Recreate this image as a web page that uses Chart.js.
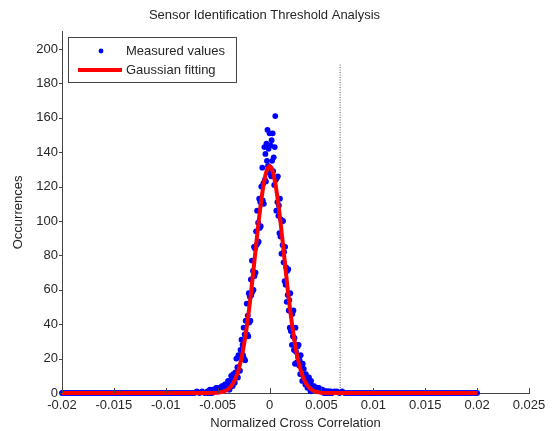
<!DOCTYPE html>
<html><head><meta charset="utf-8">
<script src="https://cdn.jsdelivr.net/npm/chart.js@4"></script>
<style>html,body{margin:0;padding:0;background:#fff}</style>
</head><body>
<canvas id="c" width="557" height="431" style="width:557px;height:431px;display:block"></canvas>
<script>
const titleText = 'Sensor Identification Threshold Analysis';
const xTitle = 'Normalized Cross Correlation';
const yTitle = 'Occurrences';
const legendLabels = ['Measured values', 'Gaussian fitting'];
const xTickValues = [-0.02, -0.015, -0.01, -0.005, 0, 0.005, 0.01, 0.015, 0.02, 0.025];
const xTickLabels = ['-0.02', '-0.015', '-0.01', '-0.005', '0', '0.005', '0.01', '0.015', '0.02', '0.025'];
const yTickValues = [0, 20, 40, 60, 80, 100, 120, 140, 160, 180, 200];

// measured histogram, central bins (-0.006 .. 0.006, width 0.00005)
const binStart = -0.006;
const binWidth = 0.00005;
const measuredCounts = [
  1,0,1,0,1,2,0,1,1,0,2,1,1,2,1,2,1,3,2,1,2,
  3,2,3,2,2,3,2,4,3,3,4,3,3,5,4,4,5,4,5,
  7,2,6,2,7,5,10,5,7,4,
  11,6,10,6,12,10,20,10,15,9,
  22,13,21,13,25,21,31,22,28,22,
  38,20,34,19,42,33,52,34,45,33,
  58,41,56,42,66,57,77,59,71,60,
  85,68,84,70,94,86,106,87,99,88,
  113,96,111,97,120,111,131,112,122,110,
  143,124,139,123,145,135,153,132,142,128,
  151,
  131,144,126,147,135,151,129,137,121,143,
  161,124,106,125,111,126,103,109,93,113,
  91,101,81,100,86,100,76,82,65,85,
  63,73,53,71,57,72,48,54,38,58,
  36,47,28,46,33,48,25,32,17,38,
  24,28,18,27,21,28,16,19,11,22,
  11,16,7,17,10,14,8,9,5,11,
  5,8,3,8,5,9,3,5,1,7,
  4,3,4,3,3,4,3,2,3,3,
  2,3,2,2,3,2,1,2,2,1,
  1,2,1,1,0,1,1,0,1,1,
  0,1,0,0,1,0,0,1,0,0
];
// measured histogram, tail bins (width 0.00025)
const tailStep = 0.00025;
const tailLeftStart = -0.02;
const tailLeftCounts = [
  0,0,0,0,0,0,0,0,0,0, 0,0,0,0,0,0,0,0,0,0,
  0,0,0,0,0,0,0,0,0,0, 0,0,0,0,0,0,0,0,0,0,
  0,0,0,0,0,0,0,0,0,0, 0,0,1,0,1,0
];
const tailRightStart = 0.00625;
const tailRightCounts = [
  1,1,0,1,0,0,0,0,0,0, 0,0,0,0,0,0,0,0,0,0,
  0,0,0,0,0,0,0,0,0,0, 0,0,0,0,0,0,0,0,0,0,
  0,0,0,0,0,0,0,0,0,0, 0,0,0,0,0,0
];

// Gaussian fitting curve
const fitX = [-0.02, -0.011, -0.006,
  -0.005, -0.0048, -0.0046, -0.0044, -0.0042, -0.004, -0.0038, -0.0036, -0.0034, -0.0032,
  -0.003, -0.0028, -0.0026, -0.0024, -0.0022, -0.002, -0.0018, -0.0016, -0.0014, -0.0012,
  -0.001, -0.0008, -0.0006, -0.0004, -0.0002, 0,
  0.0002, 0.0004, 0.0006, 0.0008, 0.001, 0.0012, 0.0014, 0.0016, 0.0018, 0.002,
  0.0022, 0.0024, 0.0026, 0.0028, 0.003, 0.0032, 0.0034, 0.0036, 0.0038, 0.004,
  0.0042, 0.0044, 0.0046, 0.0048, 0.005,
  0.006, 0.011, 0.02];
const fitY = [0, 0, 0,
  0.2, 0.4, 0.6, 0.9, 1.5, 2.2, 3.3, 4.8, 6.9, 9.7,
  13.2, 17.9, 23.5, 30.4, 38.4, 47.4, 57.6, 68.7, 80.1, 91.5,
  102.3, 112.1, 120.4, 126.7, 130.7, 132,
  130.7, 126.7, 120.4, 112.1, 102.3, 91.5, 80.1, 68.7, 57.6, 47.4,
  38.4, 30.4, 23.5, 17.9, 13.2, 9.7, 6.9, 4.8, 3.3, 2.2,
  1.5, 0.9, 0.6, 0.4, 0.2,
  0, 0, 0];

const thresholdX = 0.0068;
const thresholdTop = 191;

// ---- build point tables ----
const measuredPoints = [];
tailLeftCounts.forEach((c, i) => measuredPoints.push({x: tailLeftStart + i * tailStep, y: c}));
measuredCounts.forEach((c, i) => measuredPoints.push({x: binStart + i * binWidth, y: c}));
tailRightCounts.forEach((c, i) => measuredPoints.push({x: tailRightStart + i * tailStep, y: c}));
const fitPoints = fitX.map((x, i) => ({x: x, y: fitY[i]}));
const thresholdPoints = [{x: thresholdX, y: 0}, {x: thresholdX, y: thresholdTop}];

const FONT = '"Liberation Sans", Arial, sans-serif';
const TXT = '#262626';
Chart.defaults.font.family = FONT;
Chart.defaults.font.size = 13;
Chart.defaults.color = TXT;

const decorPlugin = {
  id: 'decor',
  afterDraw(chart) {
    const ctx = chart.ctx;
    const xs = chart.scales.x, ys = chart.scales.y;
    const ca = chart.chartArea;
    ctx.save();
    ctx.strokeStyle = '#444';
    ctx.lineWidth = 1;
    ctx.beginPath();
    xTickValues.forEach(v => {
      const px = Math.round(xs.getPixelForValue(v)) + 0.5;
      ctx.moveTo(px, ca.bottom);
      ctx.lineTo(px, ca.bottom - 5);
    });
    yTickValues.forEach(v => {
      const py = Math.round(ys.getPixelForValue(v)) + 0.5;
      ctx.moveTo(ca.left - 3, py);
      ctx.lineTo(ca.left, py);
    });
    ctx.stroke();
    // legend box
    const bx = 68.5, by = 37.5, bw = 168, bh = 45;
    ctx.fillStyle = '#fff';
    ctx.fillRect(bx, by, bw, bh);
    ctx.strokeStyle = '#444';
    ctx.strokeRect(bx, by, bw, bh);
    ctx.fillStyle = '#0000ff';
    ctx.beginPath();
    ctx.arc(101, 51, 2.4, 0, Math.PI * 2);
    ctx.fill();
    ctx.strokeStyle = '#ff0000';
    ctx.lineWidth = 4;
    ctx.beginPath();
    ctx.moveTo(78, 70);
    ctx.lineTo(122, 70);
    ctx.stroke();
    ctx.fillStyle = TXT;
    ctx.font = '13px ' + FONT;
    ctx.textBaseline = 'middle';
    ctx.textAlign = 'left';
    ctx.fillText(legendLabels[0], 126, 51);
    ctx.fillText(legendLabels[1], 126, 70);
    ctx.restore();
  }
};

new Chart(document.getElementById('c'), {
  type: 'scatter',
  data: {
    datasets: [
      {
        label: legendLabels[1], type: 'line', data: fitPoints, order: 0,
        borderColor: '#ff0000', borderWidth: 4, pointRadius: 0, tension: 0,
        fill: false, clip: false, borderJoinStyle: 'round'
      },
      {
        label: legendLabels[0], data: measuredPoints, order: 1,
        backgroundColor: '#0000ff', borderColor: '#0000ff', borderWidth: 0,
        pointRadius: 2.9, pointHoverRadius: 2.9, clip: false
      },
      {
        label: 'threshold', type: 'line', data: thresholdPoints, order: 2,
        borderColor: '#555', borderWidth: 1, borderDash: [1, 1.5], pointRadius: 0,
        fill: false, clip: false
      }
    ]
  },
  options: {
    responsive: false,
    animation: false,
    devicePixelRatio: 1,
    layout: {padding: {left: 0, right: 28, top: 0, bottom: 0}},
    plugins: {
      legend: {display: false},
      tooltip: {enabled: false},
      title: {
        display: true, text: titleText, color: TXT,
        font: {size: 13, weight: 'normal', family: FONT},
        padding: {top: 8, bottom: 8.2}
      }
    },
    scales: {
      x: {
        type: 'linear', min: -0.02, max: 0.025,
        afterBuildTicks: s => { s.ticks = xTickValues.map(v => ({value: v})); },
        afterFit: s => { s.height = 38; },
        ticks: {
          callback: (v, i) => xTickLabels[i], color: TXT, padding: 4.2,
          maxRotation: 0, minRotation: 0, autoSkip: false, font: {size: 13}
        },
        grid: {display: false, drawTicks: false},
        border: {display: true, color: '#444', width: 1},
        title: {display: true, text: xTitle, color: TXT, font: {size: 13}, padding: {top: 2.4, bottom: 0.2}}
      },
      y: {
        type: 'linear', min: 0, max: 210,
        afterBuildTicks: s => { s.ticks = yTickValues.map(v => ({value: v})); },
        afterFit: s => { s.width = 62; },
        ticks: {color: TXT, padding: 4, font: {size: 13}, autoSkip: false},
        grid: {display: false, drawTicks: false},
        border: {display: true, color: '#444', width: 1},
        title: {display: true, text: yTitle, color: TXT, font: {size: 13}, padding: {top: 10.5, bottom: 0}}
      }
    }
  },
  plugins: [decorPlugin]
});
</script>
</body></html>
